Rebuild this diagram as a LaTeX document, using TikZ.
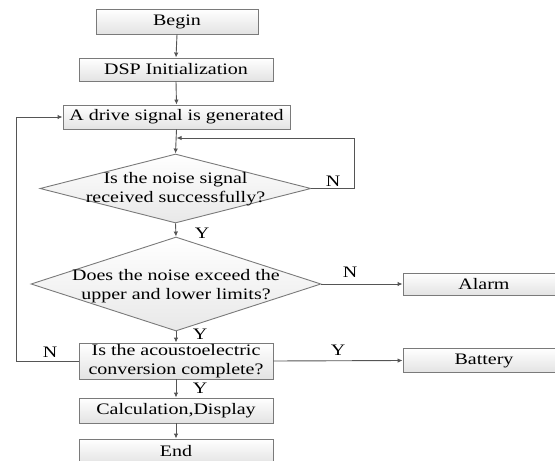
\documentclass[tikz,border=0pt]{standalone}
\usepackage{fontspec}
\setmainfont[FakeStretch=1.25]{Liberation Serif}
\usetikzlibrary{shapes.geometric,arrows.meta}
\definecolor{linegray}{HTML}{555555}
\definecolor{boxedge}{HTML}{7A7A7A}
\tikzset{
  stepbox/.style={draw=boxedge, line width=0.9pt, top color=white, bottom color=gray!22,
    inner sep=0pt, align=center, font=\fontsize{16}{18.5}\selectfont},
  decbox/.style={draw=boxedge, line width=0.9pt, diamond, top color=white, bottom color=gray!18,
    inner sep=0pt},
  dectext/.style={align=center, font=\fontsize{16}{18.5}\selectfont, inner sep=0pt},
  lab/.style={font=\fontsize{16}{18}\selectfont, inner sep=0pt},
  arr/.style={draw=linegray, line width=0.9pt, -{Latex[length=5pt,width=4.5pt]}},
  ln/.style={draw=linegray, line width=0.9pt},
}
\begin{document}
\begin{tikzpicture}[x=1pt,y=-1pt]
\useasboundingbox (0,0) rectangle (555,461);
\begin{scope}
\clip (0,0) rectangle (555,461);
\node[stepbox, minimum width=162pt, minimum height=25pt] (begin) at (177,21.5) {Begin};
\node[stepbox, minimum width=194pt, minimum height=23pt] (dsp) at (176,69.5) {DSP Initialization};
\node[stepbox, minimum width=227pt, minimum height=24pt] (drive) at (176.5,117) {A drive signal is generated};
\node[decbox, minimum width=271pt, minimum height=69pt] (d1) at (175.5,188.5) {};
\node[dectext] (d1t) at (175.5,189) {Is the noise signal\\received successfully?};
\node[decbox, minimum width=290pt, minimum height=94pt] (d2) at (176,284) {};
\node[dectext] (d2t) at (176,286) {Does the noise exceed the\\upper and lower limits?};
\node[stepbox, minimum width=162pt, minimum height=22pt] (alarm) at (484,284) {Alarm};
\node[stepbox, minimum width=194pt, minimum height=36pt] (acou) at (176,361) {Is the acoustoelectric\\conversion complete?};
\node[stepbox, minimum width=162pt, minimum height=24pt] (bat) at (484,360.5) {Battery};
\node[stepbox, minimum width=194pt, minimum height=25pt] (calc) at (176,410.5) {Calculation,Display};
\node[stepbox, minimum width=194pt, minimum height=25pt] (end) at (176,451.5) {End};
\end{scope}

\coordinate (fb) at (176.5,138);
\coordinate (fbc) at (354,138);
\coordinate (lx) at (16,361);

\draw[arr] (begin.south) -- (dsp.north);
\draw[arr] (dsp.south) -- (drive.north);
\draw[arr] (drive.south) -- (d1.north);
\draw[arr] (d1.east) -| (fbc) -- (fb);
\draw[arr] (d1.south) -- (d2.north);
\draw[arr] (d2.east) -- (alarm.west);
\draw[arr] (d2.south) -- (acou.north);
\draw[arr] (acou.west) -- (lx) |- (drive.west);
\draw[arr] (acou.east) -- (bat.west);
\draw[arr] (acou.south) -- (calc.north);
\draw[arr] (calc.south) -- (end.north);

\node[lab] (n1) at (333,181) {N};
\node[lab] (y1) at (202,233) {Y};
\node[lab] (n2) at (350,272) {N};
\node[lab] (y2) at (200,334) {Y};
\node[lab] (n3) at (50,352) {N};
\node[lab] (y3) at (338,350) {Y};
\node[lab] (y4) at (200,388) {Y};
\end{tikzpicture}
\end{document}
